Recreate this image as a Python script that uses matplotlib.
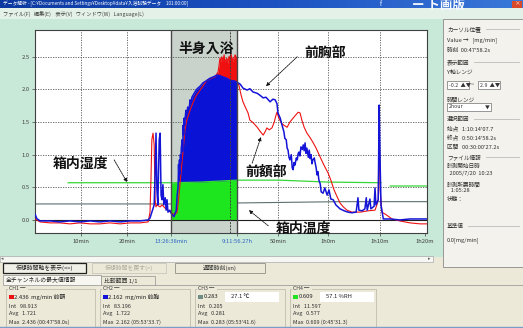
import numpy as np
import matplotlib
matplotlib.use("Agg")
import matplotlib.pyplot as plt
from matplotlib.patches import Rectangle

plt.rcParams['font.family'] = ['Noto Sans CJK JP', 'DejaVu Sans']

# ---------------- measurement data (time in minutes, values in mg/min) ----------------
t_forehead = [0, 1.1, 3.3, 5.4, 7.6, 9.8, 12.0, 14.1, 16.3, 18.5, 20.7, 22.8, 24.6, 25.0,
              25.2, 25.4, 25.65, 25.9, 26.1, 26.3, 26.5, 27.2, 27.6, 28.3, 28.9, 29.6, 30.4,
              30.9, 31.3, 31.7, 32.2, 32.6, 33.0, 33.7, 34.3, 35.0, 35.9, 36.5, 37.4, 38.3,
              39.1, 39.8, 40.0, 40.2, 40.4, 40.6, 40.9, 41.1, 41.3, 41.7, 41.9, 42.2, 42.4,
              42.6, 43.0, 43.5, 43.8, 43.9, 44.3, 44.8, 45.2, 45.7, 46.3, 46.7, 47.4, 48.3,
              48.9, 49.6, 50.0, 50.4, 50.9, 51.5, 52.0, 52.4, 52.6, 53.0, 53.5, 54.1, 54.8,
              55.4, 56.1, 56.7, 57.2, 57.6, 58.0, 58.5, 59.1, 59.8, 60.4, 61.1, 62.0, 62.8,
              63.7, 64.3, 65.0, 65.7, 66.3, 67.0, 67.8, 68.9, 70.7, 72.4, 73.9, 74.3, 74.6,
              74.8, 75.0, 75.4, 76.3, 77.6, 79.3, 81.5, 83.7, 85.2]
v_forehead = [0.015, -0.03, -0.045, -0.045, -0.06, -0.045, -0.06, -0.06, -0.045, -0.06, -0.045,
              -0.045, -0.03, 0.12, 0.61, 1.23, 1.33, 1.15, 0.31, 0.20, 0.23, 0.20, 0.23, 0.18,
              0.15, 0.11, 0.08, 0.12, 0.38, 0.69, 1.07, 1.38, 1.53, 1.68, 1.79, 1.90, 1.99,
              2.05, 2.14, 2.17, 2.19, 2.27, 2.37, 2.48, 2.42, 2.50, 2.45, 2.53, 2.42, 2.48,
              2.40, 2.51, 2.45, 2.54, 2.43, 2.53, 2.48, 2.11, 2.07, 1.91, 1.81, 1.73, 1.64,
              1.53, 1.49, 1.42, 1.36, 1.30, 1.35, 1.41, 1.38, 1.41, 1.50, 1.61, 1.65, 1.56,
              1.49, 1.45, 1.42, 1.50, 1.56, 1.61, 1.65, 1.64, 1.53, 1.42, 1.33, 1.26, 1.19,
              1.10, 0.96, 0.84, 0.72, 0.61, 0.46, 0.35, 0.26, 0.20, 0.15, 0.12, 0.12, 0.14,
              0.15, 0.23, 0.31, 1.49, 0.46, 0.12, 0.08, 0.015, -0.015, -0.045, -0.06, -0.06]

t_chest = [0, 0.4, 1.1, 3.3, 5.4, 7.6, 9.8, 12.0, 14.1, 16.3, 18.5, 20.7, 22.8, 24.6, 25.0,
           25.4, 25.9, 26.1, 26.3, 26.5, 26.7, 27.0, 27.2, 27.4, 27.6, 27.8, 28.0, 28.3, 28.5,
           28.7, 28.9, 29.3, 29.6, 30.2, 30.7, 30.9, 31.1, 31.2, 31.3, 31.4, 31.5, 31.6, 31.7,
           31.8, 32.0, 32.1, 32.2, 32.3, 32.4, 32.5, 32.8, 33.0, 33.2, 33.5, 33.7, 33.9, 34.1,
           34.6, 35.0, 35.4, 35.9, 36.5, 37.2, 38.0, 38.7, 39.6, 40.2, 40.9, 41.7, 42.4, 43.3,
           43.9, 44.6, 45.2, 46.1, 46.7, 47.4, 48.3, 48.9, 49.6, 50.2, 50.7, 51.1, 51.7, 52.2,
           52.6, 52.8, 53.3, 53.7, 54.1, 54.3, 54.6, 54.8, 55.0, 55.2, 55.4, 55.7, 55.9, 56.1,
           56.3, 56.5, 56.8, 57.0, 57.2, 57.4, 57.6, 57.8, 58.1, 58.3, 58.5, 58.7, 58.9, 59.1,
           59.4, 59.6, 59.8, 60.0, 60.2, 60.4, 60.7, 60.9, 61.1, 61.3, 61.5, 61.7, 62.0, 62.2,
           62.6, 63.0, 63.5, 63.9, 64.3, 64.8, 65.4, 66.3, 67.2, 68.0, 68.9, 69.8, 70.2, 70.4,
           71.1, 71.7, 72.0, 72.2, 72.8, 73.0, 73.7, 73.9, 74.1, 74.6, 74.8, 75.0, 75.2, 75.7,
           77.2, 79.3, 81.5, 83.7, 85.2]
v_chest = [0.09, 0.02, -0.015, -0.015, -0.03, -0.015, -0.03, -0.015, -0.03, -0.015, -0.03,
           -0.015, -0.015, 0.0, 0.03, 0.12, 0.23, 0.69, 1.33, 0.46, 0.23, 1.23, 1.33, 0.38,
           0.31, 0.54, 0.23, 0.34, 0.15, 0.31, 0.12, 0.15, 0.10, 0.05, 0.15, 0.38, 0.51, 0.85,
           0.62, 0.92, 0.70, 1.00, 0.90, 1.10, 1.23, 1.05, 1.45, 1.30, 1.56, 1.45, 1.68, 1.62,
           1.73, 1.70, 1.84, 1.78, 1.88, 1.94, 1.99, 2.02, 2.05, 2.10, 2.13, 2.17, 2.19, 2.22,
           2.21, 2.19, 2.17, 2.14, 2.13, 2.11, 2.08, 2.02, 1.99, 2.01, 1.96, 1.94, 1.91, 1.87,
           1.88, 1.84, 1.81, 1.85, 1.84, 1.78, 1.64, 1.56, 1.45, 1.35, 1.25, 1.23, 1.10, 1.07,
           0.96, 0.92, 1.00, 0.80, 0.77, 0.88, 0.84, 0.95, 0.92, 1.02, 1.04, 0.98, 1.12, 1.08,
           1.15, 1.06, 1.18, 1.02, 1.10, 0.96, 1.07, 0.94, 1.00, 0.86, 0.92, 0.95, 0.87, 0.80,
           0.69, 0.74, 0.61, 0.55, 0.43, 0.41, 0.49, 0.38, 0.46, 0.32, 0.31, 0.23, 0.17, 0.14,
           0.12, 0.11, 0.12, 0.34, 0.15, 0.14, 0.17, 0.34, 0.15, 0.32, 0.17, 0.21, 0.49, 0.23,
           0.31, 1.76, 0.92, 0.23, 0.015, 0.015, 0.0, 0.015, 0.015, 0.015]

t_humidity = [7.2, 25.0, 29.6, 35.9, 43.9, 53.0, 63.7, 75.2, np.nan, 77.2, 85.2]
v_humidity = [0.57, 0.57, 0.57, 0.58, 0.61, 0.61, 0.58, 0.57, np.nan, 0.52, 0.52]

t_temp = [0, 29.6, 43.9, 66.3, 85.2]
v_temp = [0.245, 0.245, 0.26, 0.28, 0.28]

bath_start, bath_end = 29.6, 43.9
cursor_t = 42.4

y_ticks = [0.0, 0.5, 1.0, 1.5, 2.0, 2.5]
y_labels = ["0.0", "0.5", "1.0", "1.5", "2.0", "2.5"]
x_ticks = [10, 20, 29.6, 43.9, 52.8, 63.7, 75.0, 84.8]
x_labels = ["10min", "20min", "13:26:38min", "9:11:56.27h", "50min", "1h0m", "1h10m", "1h20m"]
x_grid = [10, 20, 52.8, 63.7, 75.0]

ch_titles = ["CH1 ─", "CH2 ─", "CH3 ─", "CH4 ─"]
ch_colors = ["#ee1111", "#1414d8", "#6e8c82", "#22e022"]
ch_first = ["2.436  mg/min 前額", "2.162  mg/min 前胸", "0.283", "0.609"]
ch_boxes = [None, None, "27.1 ℃", "57.1 %RH"]
ch_int = ["Int   98.913", "Int   83.196", "Int   0.205", "Int   11.597"]
ch_avg = ["Avg   1.721", "Avg   1.722", "Avg   0.281", "Avg   0.577"]
ch_max = ["Max  2.436 (00:47'58.0s)", "Max  2.162 (05:53'33.7)", "Max  0.283 (05:53'41.6)",
          "Max  0.609 (0:45'31.3)"]

# ---------------- figure & window chrome ----------------
W, H = 523, 328
fig = plt.figure(figsize=(W / 100, H / 100), dpi=100)
fig.patch.set_facecolor("#ece9d8")
ui = fig.add_axes([0, 0, 1, 1])
ui.set_xlim(0, W)
ui.set_ylim(H, 0)
ui.axis("off")
ui.set_zorder(0)


def rect(x, y, w, h, fc, ec="none", lw=0.6, z=1):
    ui.add_patch(Rectangle((x, y), w, h, facecolor=fc, edgecolor=ec, linewidth=lw, zorder=z))


def txt(x, y, s, size=4.3, color="#333333", z=5, **kw):
    return ui.text(x, y, s, fontsize=size, color=color, va="center", ha=kw.pop("ha", "left"),
                   zorder=z, **kw)


# title bar
grad = np.linspace(0, 1, 256)[None, :]
ui.imshow(grad, extent=(0, W, 8, 0), aspect="auto", cmap=matplotlib.colors.LinearSegmentedColormap.from_list(
    "tb", ["#0c3aa0", "#1a50c0", "#3a78d8"]), zorder=1)
txt(3, 4, "データ解析 - [C:¥Documents and Settings¥Desktop¥data¥入浴試験データ\u3000101:00:00]",
    size=3.4, color="white")
txt(412, 5, "ー ト画版", size=9, color="#f4f8ff", fontweight="bold")
rect(512, 0.5, 10, 7, "#d84a2a", z=2)
txt(517, 4, "×", size=4, color="white", ha="center")
txt(380, 4, "f", size=4.5, color="white")

# menu bar
rect(0, 8, W, 11, "#e4f1e8", z=1)
txt(3, 13.5, "ファイル(F)   編集(E)    表示(V)   ウィンドウ(W)   Language(L)", size=3.8, color="#404040")

# plot panel
rect(0, 19, 443, 238, "#c8e8d8", z=1)
# right control panel
rect(443, 19, 80, 248, "#f3f2ec", ec="#8a8a8a", lw=0.6, z=1)

panel_rows = [
    (29, "カーソル位置", True), (40, "Value →   [mg/min]", False), (50, "時刻  00:47'58.2s", False),
    (62, "表示範囲", True), (72, "Y軸レンジ", False), (99, "時間レンジ", False),
    (119, "選択範囲", True), (129, "始点   1:10:14'07.7", False), (137, "終点   0:50:14'58.2s", False),
    (146, "区間   00:30:00'27.2s", False), (157, "ファイル情報", True), (166, "計測開始日時", False),
    (173, "  2005/7/20  10:23", False), (184, "計測所要時間", False), (190, "   1:05:28", False),
    (199, "状態：", False), (226, "基準値", True), (240, "0.0[mg/min]", False),
]
for yy, s, head in panel_rows:
    txt(447, yy, s, size=4.1, color="#303030")
    if head:
        ui.plot([449 + len(s) * 6.2, 519], [yy, yy], color="#b0b0b0", lw=0.5, zorder=2)
# Y range inputs
rect(447, 81, 22, 8, "white", ec="#707070", lw=0.5, z=2)
txt(449, 85, "-0.2  ▲▼", size=3.8)
rect(478, 81, 22, 8, "white", ec="#707070", lw=0.5, z=2)
txt(480, 85, "2.9  ▲▼", size=3.8)
txt(471, 85, "~", size=4)
# time range combo
rect(447, 103, 44, 8, "white", ec="#707070", lw=0.5, z=2)
txt(449, 107, "2hour", size=3.8)
txt(485, 107, "▼", size=3.5)

# scrollbar
rect(0, 256, 433, 6, "#f6f6f2", ec="#9a9a9a", lw=0.4, z=2)
txt(1, 259, "◂", size=3.5, color="#606060")
txt(428, 259, "▸", size=3.5, color="#606060")

# buttons
rect(3, 263, 83, 10, "#f0efe8", ec="#202020", lw=0.9, z=2)
txt(44.5, 268, "仮想時間軸を表示(<>)", size=4.2, ha="center", color="#202020")
rect(92, 263, 74, 10, "#ece9d8", ec="#c0c0b8", lw=0.5, z=2)
txt(129, 268, "仮想時間を戻す(>)", size=4.2, ha="center", color="#b0aca0")
rect(175, 263, 90, 10, "#ece9d8", ec="#909088", lw=0.6, z=2)
txt(220, 268, "週間時刻(xn)", size=4.2, ha="center", color="#303030")

# tabs
rect(3, 275, 98, 10, "#f7f6f0", ec="#909090", lw=0.5, z=2)
txt(6, 280, "全チャンネルの最大値情報", size=4.2, color="#202020")
rect(101, 276, 54, 9, "#ece9d8", ec="#909090", lw=0.5, z=2)
txt(104, 280.5, "比較範囲 1/1", size=4.2, color="#303030")
ui.plot([155, 523], [285, 285], color="#909090", lw=0.5, zorder=2)

# channel group boxes
box_x = [6, 100, 195, 290]
box_w = [89, 90, 90, 86]
for i in range(4):
    x0 = box_x[i]
    ui.plot([x0, x0, x0 + box_w[i], x0 + box_w[i]], [330, 289, 289, 330], color="#b8b4a8",
            lw=0.5, zorder=2)
    rect(x0 + 2, 286, 20, 5, "#ece9d8", z=3)
    txt(x0 + 3, 288.5, ch_titles[i], size=3.8, color="#404040")
    rect(x0 + 3, 294.5, 5, 4, ch_colors[i], z=3)
    txt(x0 + 8.5, 297, ch_first[i], size=4.2, color="#202020")
    if ch_boxes[i]:
        rect(x0 + 30, 292, 54, 10, "white", z=3)
        txt(x0 + 36, 297, ch_boxes[i], size=4.2, color="#202020")
    txt(x0 + 3, 306, ch_int[i], size=4.0, color="#303030")
    txt(x0 + 3, 314, ch_avg[i], size=4.0, color="#303030")
    txt(x0 + 3, 322, ch_max[i], size=4.0, color="#303030")
ui.plot([0, W], [327.2, 327.2], color="#7c9cc8", lw=1.0, zorder=4)

# ---------------- chart ----------------
ax = fig.add_axes([35 / W, (H - 233) / H, 392 / W, 203 / H])
ax.set_zorder(2)
ax.set_facecolor("white")
ax.set_xlim(0, 85.2)
ax.set_ylim(-0.2, 2.91)

ax.axvspan(bath_start, bath_end, color="#c9d3cc", lw=0, zorder=0.5)
for yv in y_ticks[1:]:
    ax.axhline(yv, color="#555555", lw=0.6, ls=(0, (1.5, 1.5)), zorder=1)
for xv in x_grid:
    ax.axvline(xv, color="#555555", lw=0.6, ls=(0, (1.5, 1.5)), zorder=1)
ax.axvline(cursor_t, color="#404040", lw=0.7, ls=(0, (2, 1.2)), zorder=3.5)

ax.plot(t_temp, v_temp, color="#5b7070", lw=0.8, zorder=1.5)

tf = np.array(t_forehead)
vf = np.array(v_forehead)
tc = np.array(t_chest)
vc = np.array(v_chest)
th = np.array(t_humidity)
vh = np.array(v_humidity)
mf = (tf >= bath_start) & (tf <= bath_end)
mc = (tc >= bath_start) & (tc <= bath_end)
mh = (th >= bath_start) & (th <= bath_end)
ax.fill_between(tf[mf], 0, vf[mf], color="#f01010", lw=0, zorder=2)
ax.fill_between(tc[mc], 0, vc[mc], color="#0a12d6", lw=0, zorder=2.1)
ax.fill_between(th[mh], 0, vh[mh], color="#1ee61e", lw=0, zorder=2.2)
ax.axhline(0, color="#202020", lw=0.8, zorder=2.5)

ax.plot(th, vh, color="#36d636", lw=0.9, zorder=2.6)
ax.plot(tf, vf, color="#ee1111", lw=0.8, zorder=3)
ax.plot(tc, vc, color="#1414d8", lw=1.1, zorder=3.1)

ax.axvline(bath_start, color="#484848", lw=1.0, zorder=3.6)
ax.axvline(bath_end, color="#484848", lw=1.0, zorder=3.6)

for s in ax.spines.values():
    s.set_color("#404040")
    s.set_linewidth(0.8)
ax.set_yticks(y_ticks)
ax.set_yticklabels(y_labels)
ax.set_xticks(x_ticks)
ax.set_xticklabels(x_labels)
ax.tick_params(axis="both", labelsize=4.2, length=2, width=0.5, colors="#404040", pad=2)
for i, lab in enumerate(ax.get_xticklabels()):
    if i in (2, 3):
        lab.set_color("#2f64c4")

arrow = dict(arrowstyle="-|>", lw=0.6, color="#111111", ls=(0, (2, 1)), mutation_scale=5,
             shrinkA=0, shrinkB=0)
kw = dict(fontsize=10, fontweight="bold", color="#111111", ha="center", va="center",
          annotation_clip=False, zorder=5)
ax.text(37.2, 2.63, "半身入浴", fontsize=10, fontweight="bold", color="#111111",
        ha="center", va="center", zorder=5)
ax.annotate("前胸部", xy=(50.2, 2.05), xytext=(63.0, 2.56), **kw)
ax.annotate("", xy=(50.2, 2.05), xytext=(57.0, 2.50), arrowprops=arrow, annotation_clip=False)
ax.annotate("前額部", xy=(49.1, 1.27), xytext=(50.2, 0.74), **kw)
ax.annotate("", xy=(49.1, 1.27), xytext=(47.2, 0.87), arrowprops=arrow, annotation_clip=False)
ax.annotate("箱内湿度", xy=(20.0, 0.58), xytext=(9.8, 0.86), **kw)
ax.annotate("", xy=(20.0, 0.58), xytext=(17.2, 0.92), arrowprops=arrow, annotation_clip=False)
t_lab = ax.annotate("箱内温度", xy=(46.5, 0.15), xytext=(58.3, -0.14), **kw)
t_lab.set_clip_on(False)
ax.annotate("", xy=(46.5, 0.15), xytext=(50.7, -0.09), arrowprops=arrow, annotation_clip=False)

fig.savefig("out.png", dpi=100, facecolor=fig.get_facecolor())
